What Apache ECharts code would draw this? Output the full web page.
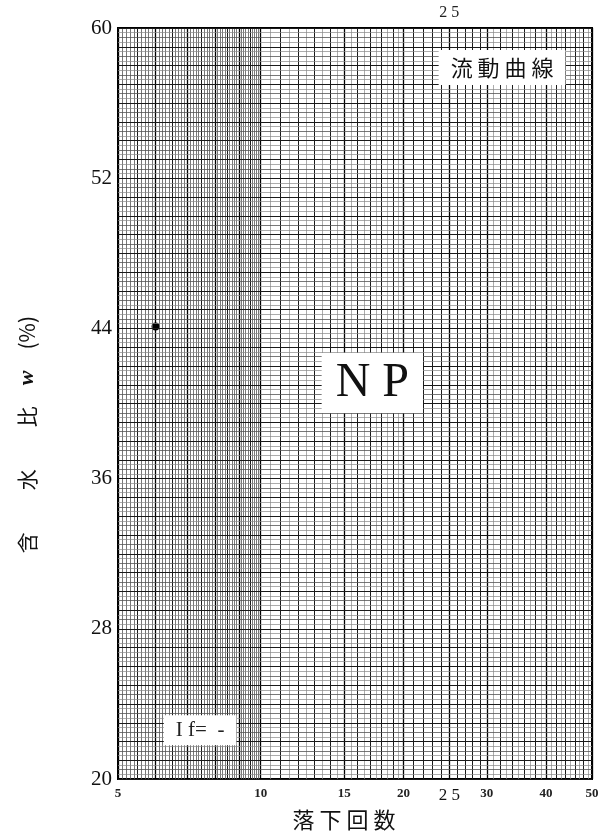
<!DOCTYPE html>
<html>
<head>
<meta charset="utf-8">
<script src="https://cdn.jsdelivr.net/npm/echarts@6/dist/echarts.min.js"></script>
<style>
  html, body { margin: 0; padding: 0; background: #fff; }
  #chart { width: 614px; height: 836px; }
</style>
</head>
<body>
<div id="chart"></div>
<script>
// Flow curve sheet: water content (%) against number of blows on a log scale.
const xTickLabels = [5, 10, 15, 20, 25, 30, 40, 50];
const xRange = [5, 50];
const yRange = [20, 60];
const yStep = 8;

// Measured point(s)
const blows = [6.0];
const waterContent = [44.1];

// Annotation boxes on the sheet
const noteTexts = ['流 動 曲 線', 'N P', 'I f=  -'];
const noteX = [32.3, 17.2, 7.45];
const noteY = [57.9, 41.1, 22.6];

const SERIF = '"Liberation Serif", "DejaVu Serif", serif';
const CJK = '"Noto Sans CJK JP", "Noto Sans", sans-serif';

const STYLE = {
  heavy: { color: '#000', width: 1.3, type: 'solid' },
  mid:   { color: '#1a1a1a', width: 1.0, type: 'solid' },
  light: { color: '#555', width: 0.8, type: 'solid' },
  faint: { color: '#888', width: 0.7, type: 'solid' }
};

// Vertical rulings of the semi-log paper
function verticalRulings() {
  const out = [];
  for (let i = 50; i <= 100; i++) {          // 5 .. 10 by 0.1
    const x = i / 10;
    const s = i % 10 === 0 ? STYLE.heavy : (i % 5 === 0 ? STYLE.mid : STYLE.light);
    out.push({ xAxis: x, lineStyle: s });
  }
  for (let i = 21; i <= 40; i++) {           // 10 .. 20 by 0.5
    const x = i / 2;
    const s = i % 2 === 0 ? (x % 5 === 0 ? STYLE.heavy : STYLE.mid) : STYLE.faint;
    out.push({ xAxis: x, lineStyle: s });
  }
  for (let x = 21; x <= 30; x++) {            // 20 .. 30 by 1
    out.push({ xAxis: x, lineStyle: x % 5 === 0 ? STYLE.heavy : STYLE.mid });
  }
  for (let x = 31; x <= 50; x++) {            // 30 .. 50 by 1
    const s = x % 10 === 0 ? STYLE.heavy : (x % 2 === 0 ? STYLE.mid : STYLE.faint);
    out.push({ xAxis: x, lineStyle: s });
  }
  return out;
}

// Horizontal rulings, every 0.25 %
function horizontalRulings() {
  const out = [];
  for (let i = yRange[0] * 4; i <= yRange[1] * 4; i++) {
    const y = i / 4;
    let s = STYLE.faint;
    if (i % 4 === 0) s = STYLE.mid;
    else if (i % 2 === 0) s = STYLE.light;
    out.push({ yAxis: y, lineStyle: s });
  }
  return out;
}

const chart = echarts.init(document.getElementById('chart'), null, { renderer: 'canvas' });

const noteStyles = [
  { fontFamily: CJK, fontSize: 22, color: '#111', padding: [7, 12, 6, 12] },
  { fontFamily: SERIF, fontSize: 48, color: '#111', padding: [8, 14, 4, 14] },
  { fontFamily: SERIF, fontSize: 21, color: '#222', padding: [5, 12, 4, 12] }
];

chart.setOption({
  animation: false,
  backgroundColor: '#fff',
  grid: {
    left: 118, right: 22, top: 28, bottom: 54,
    show: true, borderColor: '#000', borderWidth: 2, backgroundColor: '#fff'
  },
  xAxis: {
    type: 'log',
    logBase: 10,
    min: xRange[0],
    max: xRange[1],
    name: '落 下 回 数',
    nameLocation: 'middle',
    nameGap: 22,
    nameTextStyle: { fontFamily: CJK, fontSize: 22, color: '#111', padding: [0, 22, 0, 0] },
    axisLine: { show: false },
    axisTick: { show: false },
    splitLine: { show: false },
    minorSplitLine: { show: false },
    axisLabel: {
      customValues: xTickLabels,
      showMinLabel: true,
      showMaxLabel: true,
      margin: 8,
      fontFamily: SERIF,
      fontSize: 13,
      fontWeight: 'bold',
      color: '#222',
      formatter: v => (Math.round(v) === 25 ? '{big|2 5}' : String(Math.round(v))),
      rich: { big: { fontFamily: SERIF, fontSize: 17, fontWeight: 'normal', color: '#111' } }
    }
  },
  yAxis: {
    type: 'value',
    min: yRange[0],
    max: yRange[1],
    interval: yStep,
    name: '含　　水　　比　{w|w}　(%)',
    nameLocation: 'middle',
    nameRotate: 90,
    nameGap: 80,
    nameTextStyle: {
      fontFamily: CJK, fontSize: 21, color: '#111', padding: [0, 62, 0, 0],
      rich: { w: { fontFamily: SERIF, fontSize: 22, fontStyle: 'italic', fontWeight: 'bold', color: '#111' } }
    },
    axisLine: { show: false },
    axisTick: { show: false },
    splitLine: { show: false },
    axisLabel: { fontFamily: SERIF, fontSize: 21, color: '#111', margin: 6 }
  },
  series: [
    {
      type: 'scatter',
      z: 2,
      symbol: 'circle',
      symbolSize: 8,
      itemStyle: { color: '#000', opacity: 1 },
      data: blows.map((b, i) => [b, waterContent[i]]),
      markLine: {
        silent: true,
        symbol: ['none', 'none'],
        label: { show: false },
        emphasis: { disabled: true },
        animation: false,
        data: verticalRulings().concat(horizontalRulings())
      }
    },
    {
      type: 'scatter',
      z: 5,
      silent: true,
      symbolSize: 0,
      itemStyle: { opacity: 1 },
      data: noteTexts.map((t, i) => ({
        value: [noteX[i], noteY[i]],
        label: Object.assign({
          show: true,
          position: 'inside',
          formatter: t,
          backgroundColor: '#fff'
        }, noteStyles[i])
      }))
    },
    {
      // Marker for the 25-blow line above the frame
      type: 'scatter',
      z: 5,
      silent: true,
      symbolSize: 0,
      itemStyle: { opacity: 1 },
      data: [[25, yRange[1]]],
      label: {
        show: true,
        position: 'top',
        distance: 7,
        formatter: '2 5',
        fontFamily: SERIF,
        fontSize: 16,
        color: '#222'
      }
    }
  ]
});
</script>
</body>
</html>
